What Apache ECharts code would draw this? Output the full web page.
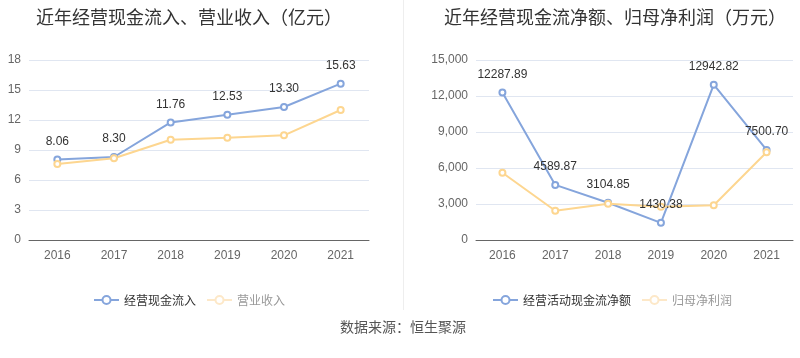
<!DOCTYPE html>
<html><head><meta charset="utf-8">
<script src="https://cdn.jsdelivr.net/npm/echarts@6/dist/echarts.min.js"></script>
<style>html,body{margin:0;padding:0;background:#fff}#c{width:800px;height:358px}</style>
</head><body><div id="c"></div>
<script>
const years = ['2016','2017','2018','2019','2020','2021'];
const cashIn = [8.06, 8.30, 11.76, 12.53, 13.30, 15.63];
const revenue = [7.60, 8.17, 10.03, 10.23, 10.47, 13.00];
const netCash = [12287.89, 4589.87, 3104.85, 1430.38, 12942.82, 7500.70];
const netProfit = [5608, 2442, 3025, 2775, 2892, 7308];
const leftTicks = {min: 0, max: 18, interval: 3};
const rightTicks = {min: 0, max: 15000, interval: 3000};

const BLUE = '#85a5dc', YEL = '#fdd690';
const CJK = '"Noto Sans CJK SC", sans-serif';
const LAT = '"Liberation Sans", Arial, sans-serif';
const chart = echarts.init(document.getElementById('c'));
function xAxis(i){return {type:'category',data:years,gridIndex:i,axisTick:{show:false},
  axisLine:{lineStyle:{color:'#666'}},axisLabel:{color:'#666',fontSize:12,margin:10,fontFamily:LAT}};}
function yAxis(i,t,fmt){return {type:'value',gridIndex:i,min:t.min,max:t.max,interval:t.interval,
  axisLine:{show:false},axisTick:{show:false},splitLine:{lineStyle:{color:'#e0e6f1'}},
  axisLabel:{color:'#666',fontSize:12,fontFamily:LAT,formatter:fmt}};}
function series(name,data,color,xi,label){return {name,type:'line',data,xAxisIndex:xi,yAxisIndex:xi,
  symbol:'emptyCircle',symbolSize:6,lineStyle:{width:2,color},itemStyle:{color},
  label:label?{show:true,position:'top',color:'#333',fontSize:12,fontFamily:LAT,distance:8,formatter:p=>p.value.toFixed(2)}:{show:false}};}
chart.setOption({
  animation:false,
  textStyle:{fontFamily:CJK},
  title:[
    {text:'近年经营现金流入、营业收入（亿元）',left:184,top:3,textAlign:'center',textStyle:{fontSize:18,fontWeight:'normal',color:'#333',fontFamily:CJK}},
    {text:'近年经营现金流净额、归母净利润（万元）',left:610,top:3,textAlign:'center',textStyle:{fontSize:18,fontWeight:'normal',color:'#333',fontFamily:CJK}},
    {text:'数据来源：恒生聚源',left:398,top:315,textAlign:'center',textStyle:{fontSize:14,fontWeight:'normal',color:'#555',fontFamily:CJK}}
  ],
  legend:[
    {left:88,top:289,itemWidth:25,itemHeight:10,itemGap:10,
     data:[{name:'经营现金流入',textStyle:{color:'#333'}},{name:'营业收入',itemStyle:{color:'#fde8c8'},lineStyle:{color:'#fde8c8'},textStyle:{color:'#999'}}],
     textStyle:{fontSize:12,fontFamily:CJK}},
    {left:487,top:289,itemWidth:25,itemHeight:10,itemGap:10,
     data:[{name:'经营活动现金流净额',textStyle:{color:'#333'}},{name:'归母净利润',itemStyle:{color:'#fde8c8'},lineStyle:{color:'#fde8c8'},textStyle:{color:'#999'}}],
     textStyle:{fontSize:12,fontFamily:CJK}}
  ],
  grid:[
    {left:29,top:60,width:340,height:180},
    {left:476,top:60,width:317,height:180}
  ],
  xAxis:[xAxis(0),xAxis(1)],
  yAxis:[yAxis(0,leftTicks),yAxis(1,rightTicks,v=>v.toLocaleString('en-US'))],
  graphic:[{type:'line',shape:{x1:403.5,y1:0,x2:403.5,y2:310},style:{stroke:'#eee',lineWidth:1}}],
  series:[
    series('经营现金流入',cashIn,BLUE,0,true),
    series('营业收入',revenue,YEL,0,false),
    series('经营活动现金流净额',netCash,BLUE,1,true),
    series('归母净利润',netProfit,YEL,1,false)
  ]
});
</script></body></html>
